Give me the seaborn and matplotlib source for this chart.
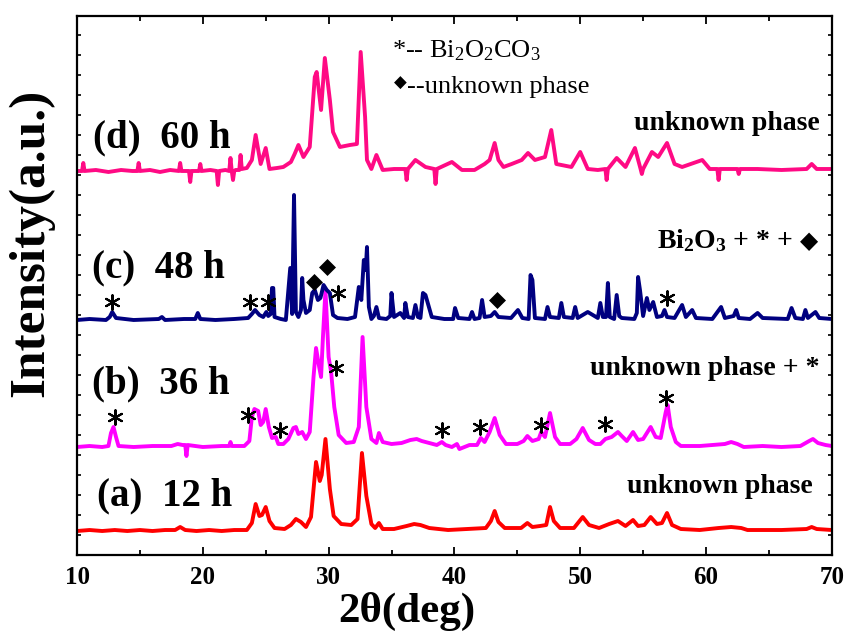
import numpy as np
import pandas as pd
import seaborn as sns
import matplotlib.pyplot as plt
from matplotlib.ticker import MultipleLocator

# ---- data (2theta in deg, intensity in a.u. above each baseline) ----
two_theta_a = [10, 11, 12, 13, 14, 15, 16, 17, 17.8, 18.2, 18.6, 19.5, 20.5, 21.5, 22.5, 23.5, 23.9, 24.2,
               24.5, 24.7, 25.0, 25.3, 25.7, 26.5, 27.0, 27.4, 27.8, 28.2, 28.6, 29.0, 29.3, 29.45, 29.75,
               30.1, 30.4, 31.0, 31.8, 32.3, 32.65, 33.0, 33.4, 33.7, 34.0, 34.3, 35.2, 36.2, 36.8, 37.3,
               38.0, 39.5, 41.0, 42.5, 42.9, 43.2, 43.5, 44.0, 45.3, 45.8, 46.2, 46.8, 47.3, 47.6, 47.9,
               48.4, 49.5, 50.2, 50.7, 51.5, 52.3, 53.0, 53.6, 54.2, 54.6, 55.1, 55.6, 56.1, 56.5, 56.9,
               57.3, 58.0, 59.5, 61.0, 62.0, 62.8, 63.3, 66.0, 68.0, 68.4, 68.8, 70]
counts_a = [0, 1, 0, 1, 0, 1, 0, 1, 1, 4, 1, 0, 1, 0, 1, 1, 8, 27,
            15, 16, 24, 10, 3, 2, 6, 12, 9, 4, 14, 69, 50, 56, 92,
            42, 15, 7, 6, 12, 78, 35, 7, 3, 8, 2, 2, 5, 7, 6,
            3, 1, 2, 3, 10, 20, 9, 3, 3, 8, 4, 5, 6, 24, 10,
            3, 3, 14, 6, 3, 7, 10, 5, 11, 5, 6, 14, 7, 8, 18,
            6, 2, 1, 3, 4, 3, 1, 1, 2, 4, 2, 1]

two_theta_b = [10, 11, 12.0, 12.5, 12.7, 12.9, 13.1, 13.3, 14.5, 16, 17.5, 18.0, 18.4, 18.6, 18.7, 18.8, 20,
               21.5, 22.1, 22.2, 22.3, 23.3, 23.7, 23.9, 24.1, 24.4, 24.6, 24.8, 25.0, 25.25, 25.5, 25.8,
               26.0, 26.4, 26.8, 27.2, 27.4, 27.6, 27.9, 28.2, 28.5, 28.8, 29.0, 29.25, 29.4, 29.55, 29.75,
               30.0, 30.2, 30.45, 30.8, 31.4, 32.0, 32.4, 32.7, 33.0, 33.4, 33.8, 34.0, 34.3, 35.0, 35.8,
               36.5, 37.0, 37.4, 38.0, 38.6, 39.0, 39.3, 39.8, 40.2, 40.4, 41.2, 41.8, 42.1, 42.4, 42.8,
               43.2, 43.6, 44.1, 45.0, 45.5, 45.8, 46.2, 46.7, 46.9, 47.2, 47.6, 48.0, 48.4, 49.2, 49.7,
               50.2, 50.7, 51.2, 51.6, 52.0, 52.5, 53.0, 53.3, 53.7, 54.2, 54.6, 55.0, 55.6, 56.0, 56.4,
               56.8, 56.95, 57.2, 57.6, 58.0, 59.5, 60.5, 61.5, 62.0, 62.5, 63.0, 64.5, 66, 67.5, 68.2,
               68.5, 68.9, 69.5, 70]
counts_b = [0, 1, 0, 1, 14, 20, 10, 1, 0, 1, 1, 3, 2, 2, -9, 2, 0,
            1, 1, 5, 1, 1, 6, 30, 38, 36, 22, 25, 38, 20, 9, 10,
            3, 3, 8, 19, 20, 13, 15, 8, 15, 70, 99, 80, 70, 110, 157,
            90, 75, 40, 12, 4, 5, 20, 110, 40, 8, 4, 14, 5, 3, 4,
            7, 8, 6, 4, 2, 5, 2, 0, 3, -2, 2, 2, 9, 5, 15,
            29, 12, 3, 3, 6, 11, 6, 8, 15, 10, 34, 10, 3, 3, 8,
            19, 7, 3, 3, 8, 10, 15, 11, 6, 15, 7, 8, 20, 10, 9,
            35, 42, 20, 5, 1, 1, 2, 3, 5, 3, 0, 1, 0, 1, 6,
            8, 4, 2, 1]

two_theta_c = [10, 11, 12.3, 12.6, 12.8, 13.1, 14.5, 16.5, 16.75, 17.0, 18.5, 19.4, 19.6, 19.8, 21, 22.5,
               23.6, 23.9, 24.15, 24.5, 24.8, 25.05, 25.2, 25.4, 25.5, 25.6, 25.7, 26.2, 26.6, 26.8, 26.95,
               27.1, 27.25, 27.4, 27.6, 27.8, 27.9, 28.0, 28.2, 28.5, 28.7, 28.9, 29.15, 29.35, 29.6,
               29.85, 30.1, 30.35, 30.7, 31.5, 32.1, 32.4, 32.6, 32.8, 32.95, 33.05, 33.2, 33.4, 33.6,
               33.8, 34.0, 34.6, 34.9, 35.0, 35.2, 35.7, 36.0, 36.1, 36.3, 36.7, 36.9, 37.1, 37.3, 37.5,
               37.7, 38.2, 39.2, 39.9, 40.05, 40.3, 41.2, 41.4, 41.6, 42.0, 42.2, 42.4, 42.9, 43.2, 43.5,
               44.5, 45.05, 45.4, 45.9, 46.05, 46.2, 46.4, 47.2, 47.4, 47.6, 48.3, 48.5, 48.7, 49.4, 49.6,
               49.8, 50.6, 51.4, 51.6, 51.8, 52.05, 52.2, 52.35, 52.7, 52.9, 53.1, 53.3, 54.3, 54.5,
               54.6, 54.75, 55.0, 55.3, 55.5, 55.8, 56.1, 56.5, 56.7, 56.9, 57.5, 58.1, 58.4, 58.9, 59.2,
               60.5, 61.2, 61.5, 62.2, 62.4, 62.6, 63.5, 64.1, 64.5, 66.5, 66.8, 67.1, 67.7, 67.9, 68.1,
               68.7, 69.0, 70]
counts_c = [0, 1, 0, 3, 8, 2, 0, 1, 3, 0, 1, 1, 7, 1, 0, 1,
            2, 6, 10, 5, 3, 8, 4, 6, 32, 32, 3, 1, 0, 30, 52,
            6, 125, 8, 3, 10, 42, 20, 7, 10, 27, 30, 20, 22, 35,
            30, 27, 5, 2, 1, 3, 33, 20, 60, 50, 73, 13, 1, 4,
            13, 2, 1, 4, 27, 3, 7, 2, 17, 3, 2, 15, 3, 2, 27,
            25, 3, 1, 1, 12, 2, 1, 8, 1, 2, 20, 3, 4, 8, 3,
            2, 10, 2, 1, 45, 40, 2, 1, 13, 3, 2, 17, 3, 2, 13,
            2, 8, 2, 17, 3, 3, 37, 3, 1, 25, 4, 2, 1, 7,
            43, 30, 4, 22, 10, 18, 3, 4, 10, 3, 2, 15, 3, 10, 2,
            1, 13, 2, 4, 10, 2, 1, 7, 2, 1, 12, 2, 1, 10, 2,
            8, 2, 1]

two_theta_d = [10, 10.4, 10.5, 10.6, 11.5, 12.5, 13.5, 14.4, 14.8, 14.9, 15.0, 15.8, 16.6, 17.4, 18.1,
               18.2, 18.3, 18.9, 19.0, 19.1, 19.7, 19.8, 19.9, 20.6, 21.1, 21.2, 21.3, 21.8, 22.1, 22.2,
               22.3, 22.4, 22.5, 22.6, 22.9, 23.0, 23.1, 23.5, 23.9, 24.2, 24.6, 25.0, 25.3, 25.9, 26.4,
               27.0, 27.3, 27.6, 28.0, 28.5, 28.9, 29.05, 29.4, 29.7, 30.1, 30.35, 30.9, 31.7, 32.25,
               32.55, 32.9, 33.05, 33.4, 33.8, 34.3, 35.2, 36.1, 36.2, 36.3, 36.9, 37.7, 38.4, 38.5, 38.6,
               39.8, 40.6, 41.6, 42.4, 42.8, 43.2, 43.5, 43.9, 44.55, 45.35, 45.85, 46.4, 47.2, 47.7,
               48.1, 49.3, 50.0, 50.6, 51.4, 52.0, 52.1, 52.2, 52.9, 53.6, 54.35, 54.8, 54.9, 55.0, 55.7,
               56.2, 56.9, 57.5, 58.1, 59.7, 60.3, 60.9, 61.0, 61.1, 62.5, 62.6, 62.7, 64.1, 66.0, 68.0,
               68.4, 68.8, 70]
counts_d = [1, 1, 9, 1, 2, 0, 2, 1, 1, 9, 1, 2, 0, 2, 1,
            9, 1, 1, -10, 1, 1, 8, 1, 2, 1, -13, 1, 2, 1, 14,
            1, -8, 1, 2, 2, 17, 3, 4, 12, 37, 8, 24, 3, 4, 5,
            10, 18, 27, 15, 25, 95, 100, 62, 114, 72, 40, 25, 27, 28,
            120, 55, 12, 3, 17, 2, 3, 3, -8, 3, 12, 5, 3, -12, 3,
            10, 2, 2, 8, 12, 29, 12, 5, 8, 12, 19, 12, 15, 42,
            8, 5, 20, 3, 2, 3, -8, 3, 14, 5, 24, 3, -2, 3, 20,
            15, 29, 8, 5, 12, 3, 3, -8, 3, 3, -2, 3, 3, 2, 3,
            8, 3, 3]

labels = ['(a)  12 h', '(b)  36 h', '(c)  48 h', '(d)  60 h']
offsets = [24, 108, 235, 383]
colors = ['#ff0000', '#ff00ff', '#000080', '#ff0a84']

# peak marks: Bi2O2CO3 (*) and unknown phase (diamond)
star_x = [13.0, 23.6, 26.1, 30.6, 39.0, 42.0, 46.9, 52.0, 56.85, 12.8, 23.75, 25.2, 30.75, 56.87]
star_y = [138, 140, 125, 187, 125, 128, 130, 131, 157, 253, 253, 253, 262, 257]
diamond_x = [28.8, 29.9, 43.36]
diamond_y = [273, 288, 255]

series = [(two_theta_a, counts_a), (two_theta_b, counts_b), (two_theta_c, counts_c), (two_theta_d, counts_d)]

# ---- plotting ----
sns.set_style('ticks')
plt.rcParams['font.family'] = ['Liberation Serif', 'DejaVu Sans']
plt.rcParams['mathtext.fontset'] = 'custom'
plt.rcParams['mathtext.rm'] = 'Liberation Serif'
plt.rcParams['mathtext.bf'] = 'Liberation Serif:bold'
for key in ['text.color', 'axes.labelcolor', 'xtick.color', 'ytick.color', 'axes.edgecolor']:
    plt.rcParams[key] = 'black'

fig = plt.figure(figsize=(8.5, 6.42), dpi=100)
ax = fig.add_axes([0.0906, 0.1355, 0.888, 0.8396])

for (tt, cc), off, col in zip(series, offsets, colors):
    df = pd.DataFrame({'two_theta': tt, 'intensity': np.array(cc) + off})
    sns.lineplot(data=df, x='two_theta', y='intensity', color=col, lw=2.8,
                 estimator=None, sort=False, ax=ax)

ax.scatter(star_x, star_y, marker=(6, 2, 0), s=110, c='black', linewidths=1.5, zorder=5)
ax.scatter(diamond_x, diamond_y, marker='D', s=75, c='black', linewidths=0, zorder=5)

# sample labels
label_pos = [(11.6, 50), (11.2, 162), (11.2, 278), (11.3, 408)]
for lab, (lx, ly) in zip(labels, label_pos):
    ax.text(lx, ly, lab, fontsize=28, fontweight='bold', va='baseline', ha='left')

# phase labels on the right
ax.text(68.5, 62, 'unknown phase', fontsize=20, fontweight='bold', ha='right', va='baseline')
ax.text(69.06, 180, 'unknown phase + *', fontsize=20, fontweight='bold', ha='right', va='baseline')
ax.text(69.06, 425, 'unknown phase', fontsize=20, fontweight='bold', ha='right', va='baseline')
ax.text(66.9, 307, r'$\mathbf{Bi_2O_3}$ + * +', fontsize=20, fontweight='bold', ha='right', va='baseline')
ax.text(68.9, 307, '\u25c6', fontsize=17, ha='right', va='baseline', family='DejaVu Sans')

# legend text
ax.text(35.0, 498, r'*-- $\mathrm{Bi_2O_2CO_3}$', fontsize=19, ha='left', va='baseline')
ax.text(35.2, 467, '\u25c6', fontsize=12, ha='left', va='baseline', family='DejaVu Sans')
ax.text(36.25, 462, '--unknown phase', fontsize=19, ha='left', va='baseline')

ax.set_xlim(10, 70)
ax.set_ylim(0, 539)
ax.xaxis.set_major_locator(MultipleLocator(10))
ax.xaxis.set_minor_locator(MultipleLocator(5))
ax.set_yticks(np.arange(0, 540, 20))
ax.set_yticklabels([])

ax.tick_params(axis='x', which='major', direction='in', length=6, width=1.3, top=True,
               labelsize=18, pad=8)
ax.tick_params(axis='x', which='minor', direction='in', length=3.5, width=1.3, top=True)
ax.tick_params(axis='y', which='both', direction='in', length=3, width=1.2, right=True, left=True)
for lbl in ax.get_xticklabels():
    lbl.set_fontweight('bold')

for sp in ax.spines.values():
    sp.set_linewidth(1.6)
    sp.set_color('black')

ax.set_xlabel('2\u03b8(deg)', fontsize=31, fontweight='bold')
ax.set_ylabel('Intensity(a.u.)', fontsize=37, fontweight='bold')
ax.xaxis.set_label_coords(0.437, -0.068)
ax.yaxis.set_label_coords(-0.030, 0.58)
ax.xaxis.label.set_va('top')

fig.savefig('out.png', dpi=100)
